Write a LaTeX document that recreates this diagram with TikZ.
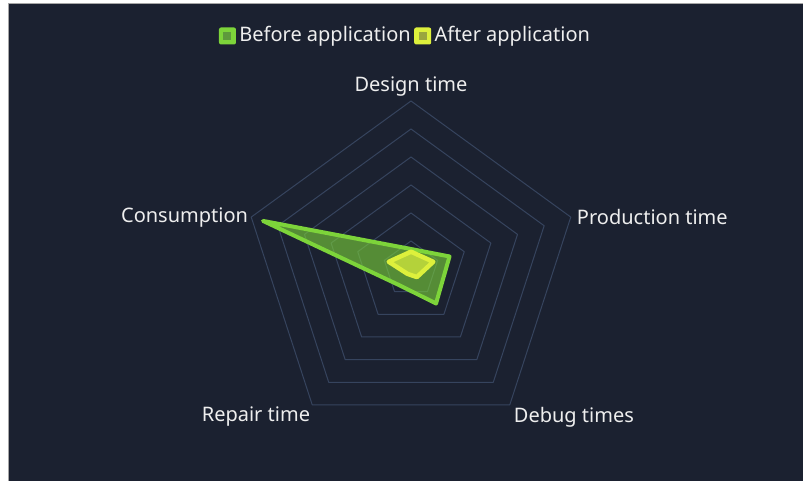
\documentclass[tikz,border=0pt]{standalone}
\usepackage{fontspec}
\setmainfont{Noto Sans}
\usetikzlibrary{positioning}
\definecolor{bgnavy}{HTML}{1B2130}
\definecolor{gridblue}{HTML}{36445E}
\definecolor{labelwhite}{HTML}{EEEEEE}
\definecolor{beforegreen}{HTML}{7DD43A}
\definecolor{beforedark}{HTML}{5E9A3C}
\definecolor{afteryellow}{HTML}{DDF03C}
\definecolor{afterdark}{HTML}{9AA63E}

\begin{document}
\begin{tikzpicture}[x=1pt, y=1pt, ring/.style={draw=gridblue, line width=1pt, line join=round}, axislabel/.style={text=labelwhite, font=\fontsize{20}{24}\selectfont, inner sep=2pt}, before/.style={draw=beforegreen, line width=4pt, line join=round, fill=beforegreen, fill opacity=0.6}, after/.style={draw=afteryellow, line width=4.5pt, line join=round, fill=afteryellow, fill opacity=0.7}, legbox/.style={minimum size=17pt, inner sep=0pt, rounded corners=2pt}, legdot/.style={minimum size=8pt, inner sep=0pt}]

\useasboundingbox (-411,-212) rectangle (392,269);
\fill[white] (-411,-212) rectangle (392,269);
\fill[bgnavy] (-403,-212) rectangle (392,266);
\draw[gray!70, line width=0.6pt] (-403,-212) -- (-403,266) -- (392,266);

% grid
\foreach \r in {28,56,...,168} \draw[ring] (90:\r) -- (18:\r) -- (-54:\r) -- (234:\r) -- (162:\r) -- cycle;

\coordinate (vDesign) at (90:168); \coordinate (vProduction) at (18:168); \coordinate (vDebug) at (-54:168); \coordinate (vRepair) at (234:168); \coordinate (vConsumption) at (162:168);

% data
\draw[before] (90:20) -- (18:40.5) -- (-54:42.6) -- (234:20) -- (162:155.6) -- cycle;
\draw[after] (90:17.3) -- (18:23.4) -- (-54:10) -- (234:6) -- (162:23.4) -- cycle;

% axis labels
\node[axislabel, above=2pt of vDesign] (lDesign) {Design time};
\node[axislabel, right=4pt of vProduction] (lProduction) {Production time};
\node[axislabel, below right=0pt and 2pt of vDebug] (lDebug) {Debug times};
\node[axislabel, below left=0pt and 0pt of vRepair] (lRepair) {Repair time};
\node[axislabel, left=1pt of vConsumption] (lConsumption) {Consumption};

% legend
\node[legbox, fill=beforegreen] (kBefore) at (-183.5,233) {};
\node[legdot, fill=beforedark] at (kBefore) {};
\node[axislabel, right=1pt of kBefore] (tBefore) {Before application};
\node[legbox, fill=afteryellow, right=1pt of tBefore] (kAfter) {};
\node[legdot, fill=afterdark] at (kAfter) {};
\node[axislabel, right=1pt of kAfter] (tAfter) {After application};
\end{tikzpicture}
\end{document}
